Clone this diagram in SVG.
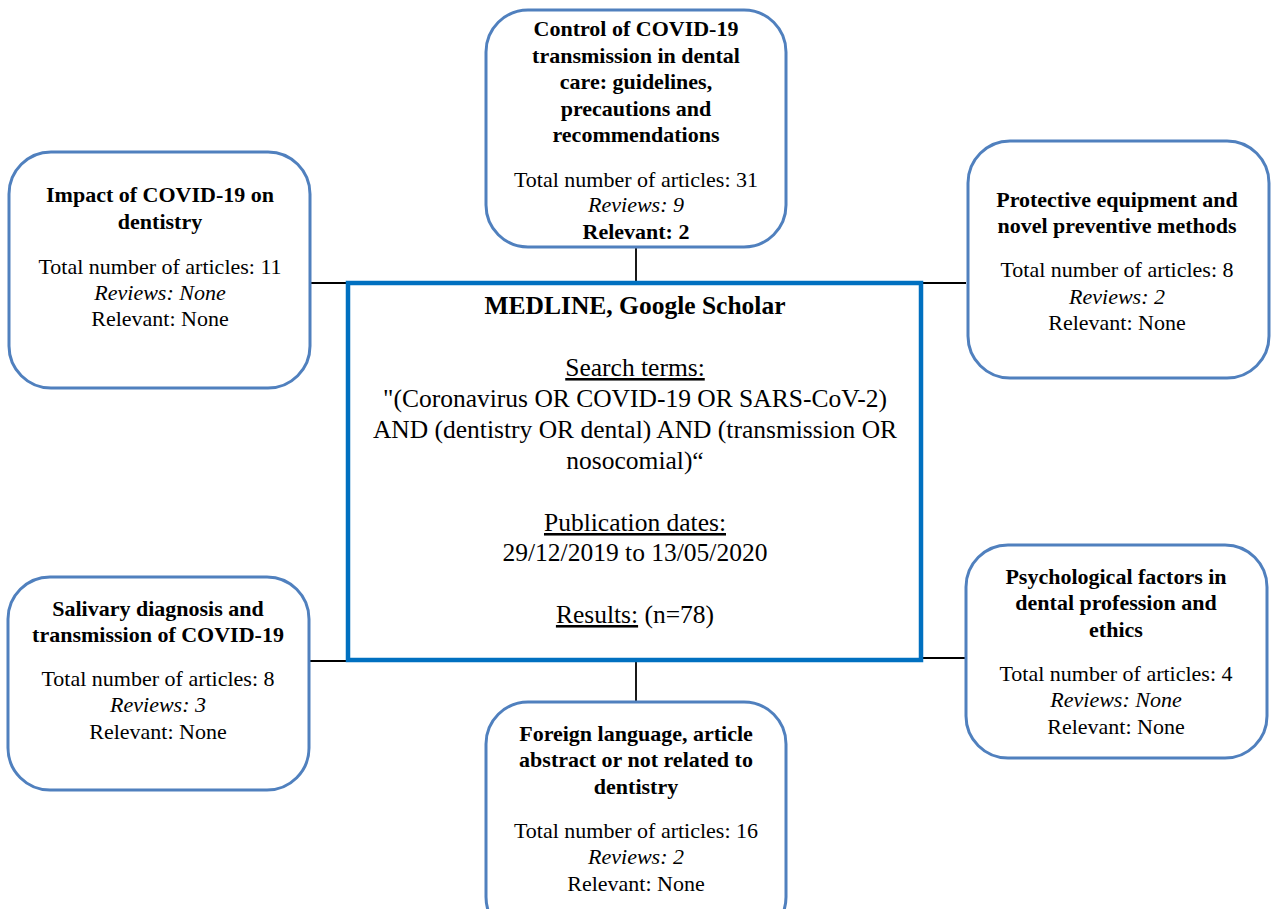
<svg xmlns="http://www.w3.org/2000/svg" width="1271" height="909" viewBox="0 0 1271 909">
<style>
.box{fill:#fff;stroke:#5080BE;stroke-width:3}
.main{fill:#fff;stroke:#0070C0;stroke-width:4.5}
.ln{stroke:#000;stroke-width:1.8;fill:none}
text{font-family:"Liberation Serif","Times New Roman",serif;fill:#000;text-anchor:middle}
.t{font-weight:bold;font-size:22px}
.b{font-size:22px}
.i{font-style:italic}
.m{font-size:25.5px}
</style>
<rect width="1271" height="909" fill="#fff"/>
<g id="connectors">
<line class="ln" x1="306" y1="283" x2="348" y2="283"/>
<line class="ln" x1="636" y1="247" x2="636" y2="283"/>
<line class="ln" x1="921" y1="283" x2="966" y2="283"/>
<line class="ln" x1="305" y1="661" x2="348" y2="661"/>
<line class="ln" x1="921" y1="658" x2="966" y2="658"/>
<line class="ln" x1="636" y1="660" x2="636" y2="702"/>
</g>
<g id="main">
<rect class="main" x="348" y="283" width="573" height="377"/>
<text class="m" x="635" y="314" font-weight="bold">MEDLINE, Google Scholar</text>
<text class="m" x="635" y="376" text-decoration="underline">Search terms:</text>
<text class="m" x="635" y="407">"(Coronavirus OR COVID-19 OR SARS-CoV-2)</text>
<text class="m" x="635" y="438">AND (dentistry OR dental) AND (transmission OR</text>
<text class="m" x="635" y="469">nosocomial)“</text>
<text class="m" x="635" y="531" text-decoration="underline">Publication dates:</text>
<text class="m" x="635" y="561">29/12/2019 to 13/05/2020</text>
<text class="m" x="635" y="623"><tspan text-decoration="underline">Results:</tspan> (n=78)</text>
</g>
<g id="top">
<rect class="box" x="486" y="10" width="300" height="237" rx="42"/>
<text class="t" x="636" y="36">Control of COVID-19</text>
<text class="t" x="636" y="63">transmission in dental</text>
<text class="t" x="636" y="89">care: guidelines,</text>
<text class="t" x="636" y="116">precautions and</text>
<text class="t" x="636" y="142">recommendations</text>
<text class="b" x="636" y="187">Total number of articles: 31</text>
<text class="b i" x="636" y="212">Reviews: 9</text>
<text class="b" x="636" y="239" font-weight="bold">Relevant: 2</text>
</g>
<g id="leftTop">
<rect class="box" x="9" y="152" width="301" height="236" rx="42"/>
<text class="t" x="160" y="202">Impact of COVID-19 on</text>
<text class="t" x="160" y="229">dentistry</text>
<text class="b" x="160" y="274">Total number of articles: 11</text>
<text class="b i" x="160" y="300">Reviews: None</text>
<text class="b" x="160" y="326">Relevant: None</text>
</g>
<g id="rightTop">
<rect class="box" x="968" y="141" width="301" height="237" rx="42"/>
<text class="t" x="1117" y="207">Protective equipment and</text>
<text class="t" x="1117" y="233">novel preventive methods</text>
<text class="b" x="1117" y="277">Total number of articles: 8</text>
<text class="b i" x="1117" y="304">Reviews: 2</text>
<text class="b" x="1117" y="330">Relevant: None</text>
</g>
<g id="leftBottom">
<rect class="box" x="8" y="577" width="301" height="213" rx="42"/>
<text class="t" x="158" y="616">Salivary diagnosis and</text>
<text class="t" x="158" y="642">transmission of COVID-19</text>
<text class="b" x="158" y="686">Total number of articles: 8</text>
<text class="b i" x="158" y="712">Reviews: 3</text>
<text class="b" x="158" y="739">Relevant: None</text>
</g>
<g id="rightBottom">
<rect class="box" x="966" y="545" width="301" height="213" rx="42"/>
<text class="t" x="1116" y="584">Psychological factors in</text>
<text class="t" x="1116" y="610">dental profession and</text>
<text class="t" x="1116" y="637">ethics</text>
<text class="b" x="1116" y="681">Total number of articles: 4</text>
<text class="b i" x="1116" y="707">Reviews: None</text>
<text class="b" x="1116" y="734">Relevant: None</text>
</g>
<g id="bottom">
<rect class="box" x="486" y="702" width="300" height="237" rx="42"/>
<text class="t" x="636" y="741">Foreign language, article</text>
<text class="t" x="636" y="767">abstract or not related to</text>
<text class="t" x="636" y="794">dentistry</text>
<text class="b" x="636" y="838">Total number of articles: 16</text>
<text class="b i" x="636" y="864">Reviews: 2</text>
<text class="b" x="636" y="891">Relevant: None</text>
</g>
</svg>
